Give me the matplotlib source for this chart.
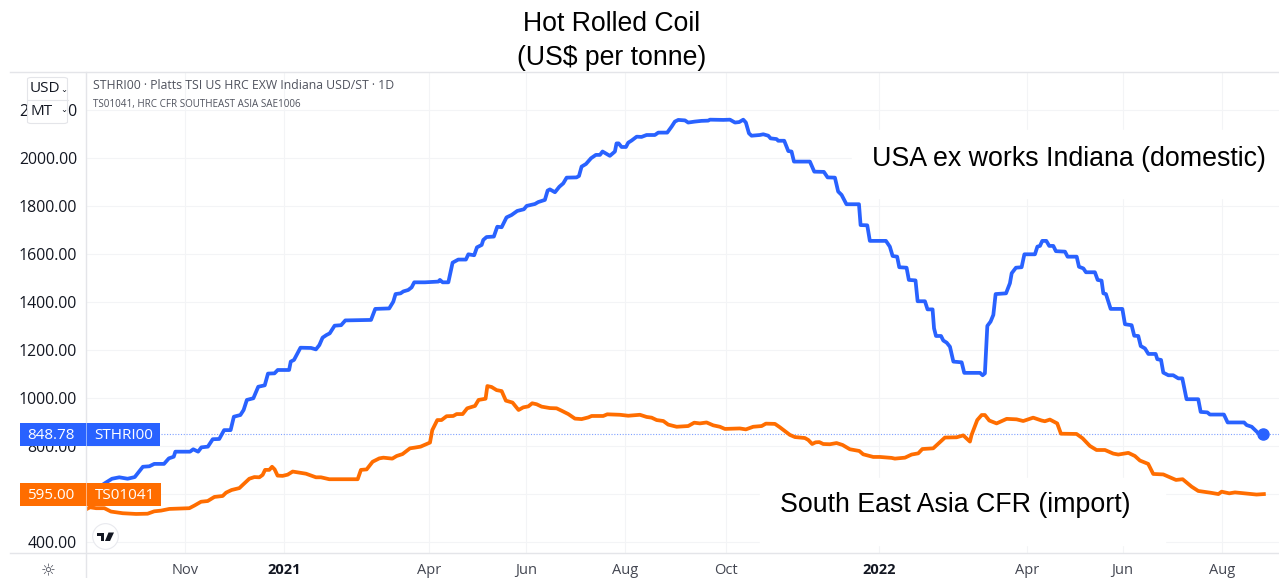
import numpy as np
import matplotlib
matplotlib.use("Agg")
import matplotlib.pyplot as plt
import matplotlib.dates as mdates
from matplotlib.patches import Rectangle, FancyBboxPatch, Polygon
from matplotlib.lines import Line2D

# days counted from 1 Sep 2020, values in US$ per tonne
usa_days = [0, 12, 16, 20.5, 25.6, 30, 35, 39, 42, 48, 51, 54, 55, 64, 66, 69, 71, 75, 78, 82, 85, 89, 91, 95, 97, 99,
            103, 106, 110, 112, 116, 118, 125, 126, 128, 132, 138.5, 141.5, 143.6, 145.6, 148, 150, 153, 157, 159.6,
            175.4, 178, 186.6, 189.1, 190.5, 193.6, 195.3, 198.3, 200.4, 202, 208.6, 216.8, 217.8, 219.5, 223, 225.6,
            229.1, 233.8, 235.3, 238.9, 240.6, 243.5, 244.5, 246.5, 251, 253.1, 255.8, 258.8, 261.9, 265.4, 269.5,
            271.2, 276.3, 278.3, 282.4, 284.1, 285.5, 288.6, 291.3, 293.7, 295.8, 301.9, 303.4, 305, 307.7, 310.8,
            313.8, 316.3, 317.9, 322.4, 325.5, 326.5, 327.8, 329.6, 332.3, 333.7, 335.8, 338.9, 341.9, 345, 350.1,
            352.2, 357.7, 360.4, 362.4, 364.5, 368.6, 370.6, 374.7, 378.8, 382.9, 384, 392.2, 396.3, 399.4, 402,
            404.5, 406.1, 408, 409.6, 414.7, 416.8, 419.9, 421.3, 425, 426, 429.7, 432.2, 434.2, 435.7, 445.5, 448.2,
            454.1, 456.4, 460.9, 462.9, 465, 468, 475.7, 476.7, 480.8, 482.4, 492.3, 494.7, 496.4, 499.2, 500.5, 505,
            506.4, 510.5, 511.8, 516.3, 517.9, 521, 521.9, 523.1, 526.2, 527.6, 529.7, 531.7, 533.8, 538.9, 540.5,
            550.2, 551.8, 553.2, 554.7, 556.7, 558.4, 559.8, 566.2, 568.6, 569.7, 572.3, 575.8, 577.5, 584, 585.5,
            587.1, 588.5, 591, 592.8, 595.3, 596.9, 602.5, 604.1, 609.7, 611.1, 613.8, 615.4, 620.9, 622.6, 625,
            626.1, 627.7, 630.6, 637.8, 639.4, 643.5, 645.1, 647.6, 649.1, 651.7, 653.8, 658.3, 659.3, 661.6, 663,
            666.1, 669.1, 672.2, 674.7, 677.3, 684.5, 686, 690.1, 691.7, 700.3, 702.6, 712.7, 714.3, 717.4, 721.5,
            724.5]
usa_price = [590, 645, 662, 668, 662, 669, 712, 714, 724, 724, 747, 754, 775, 775, 785, 775, 793, 796, 827, 828, 865,
             865, 921, 928, 949, 991, 998, 1046, 1052, 1101, 1102, 1116, 1116, 1151, 1158, 1209, 1208, 1202, 1220, 1251,
             1262, 1269, 1301, 1303, 1323, 1325, 1371, 1373, 1401, 1433, 1436, 1444, 1450, 1461, 1482, 1482, 1485, 1492,
             1482, 1482, 1564, 1577, 1577, 1599, 1595, 1628, 1638, 1659, 1671, 1673, 1714, 1712, 1753, 1763, 1780, 1787,
             1801, 1809, 1817, 1826, 1865, 1870, 1858, 1881, 1895, 1919, 1920, 1926, 1965, 1976, 2000, 2014, 2014, 2028,
             2010, 2028, 2062, 2062, 2047, 2047, 2065, 2074, 2090, 2089, 2097, 2097, 2107, 2107, 2132, 2153, 2160, 2158,
             2149, 2153, 2156, 2157, 2161, 2160, 2161, 2149, 2151, 2161, 2149, 2104, 2094, 2097, 2100, 2094, 2083, 2080,
             2073, 2073, 2030, 2028, 1986, 1986, 1944, 1943, 1920, 1919, 1861, 1847, 1808, 1808, 1721, 1720, 1655, 1655,
             1631, 1592, 1589, 1545, 1543, 1492, 1490, 1403, 1403, 1369, 1369, 1290, 1258, 1258, 1239, 1230, 1213, 1151,
             1148, 1104, 1104, 1094, 1102, 1300, 1318, 1346, 1433, 1436, 1478, 1520, 1543, 1545, 1599, 1599, 1631, 1634,
             1655, 1655, 1634, 1634, 1612, 1610, 1589, 1589, 1547, 1540, 1524, 1524, 1492, 1489, 1436, 1433, 1371, 1371,
             1307, 1303, 1259, 1258, 1216, 1206, 1183, 1183, 1161, 1158, 1105, 1094, 1094, 1081, 1081, 994, 994, 941,
             939, 930, 930, 897, 897, 886, 879, 852, 849]

asia_days = [0, 2.5, 6.2, 11.3, 15.4, 22.6, 30.8, 37.9, 42, 46.2, 51.3, 63.6, 66.7, 70.8, 74.9, 79, 84.1, 86.2, 89.6,
             94.4, 96.4, 100.5, 103.6, 106.7, 108.7, 110.2, 112.8, 114.5, 116.1, 117.9, 121, 124.1, 127.2, 135.4, 141.5,
             144.6, 149.7, 167.2, 169.2, 172.7, 176.4, 180.5, 183, 188.5, 191.2, 194.8, 199.4, 202.4, 205.9, 211.7,
             213.1, 216.2, 218.8, 221.9, 226, 228.1, 231.8, 234.6, 239.4, 241.6, 245.9, 247, 249.6, 252.7, 255.8, 258.4,
             262.5, 266.2, 269.1, 272.2, 274.6, 277.3, 280.4, 285.5, 289.6, 292.7, 296.8, 300.9, 305, 309.1, 311.2,
             318.3, 320.8, 328.6, 333.7, 340.9, 345, 348.1, 351.2, 355.3, 358.3, 363.5, 370.6, 374.3, 377.8, 381.9, 386,
             390.1, 393.2, 402.4, 406.1, 410.6, 415.8, 418.4, 424, 427, 433.2, 436.3, 442.4, 444.5, 446.9, 449, 451.3,
             453.7, 457.8, 461.9, 465.6, 470.1, 475.9, 478.3, 484.5, 488.6, 495.8, 497.8, 504, 508.1, 512.2, 514.7,
             521.4, 528.6, 535.8, 539.9, 544, 545, 548.5, 551.2, 553.2, 555.9, 560.4, 566.6, 572.7, 576.8, 582.9, 588.1,
             590.1, 593.2, 597.7, 600, 609.6, 613.3, 617.8, 621.9, 627.1, 632.2, 635.3, 641.5, 645.5, 648.6, 653.7,
             656.8, 663, 669.1, 670.8, 674.9, 680.4, 684.5, 691.7, 696.9, 698.9, 703.6, 707.1, 720.4, 724.9]
asia_price = [534, 543, 539, 539, 525, 518, 515, 516, 526, 529, 536, 539, 550, 566, 569, 586, 590, 604, 615, 623, 636,
              662, 669, 668, 678, 699, 699, 712, 701, 675, 674, 679, 692, 683, 668, 668, 660, 660, 699, 701, 733, 747,
              750, 746, 757, 765, 789, 792, 796, 813, 865, 907, 907, 923, 924, 932, 932, 956, 966, 991, 996, 1049, 1045,
              1032, 1028, 988, 980, 949, 960, 964, 977, 973, 963, 957, 956, 946, 932, 913, 911, 918, 924, 924, 931, 929,
              925, 929, 920, 917, 907, 903, 888, 879, 882, 896, 893, 897, 885, 879, 870, 872, 868, 879, 882, 892, 891,
              877, 845, 836, 832, 824, 807, 814, 815, 807, 806, 811, 803, 785, 778, 764, 753, 753, 749, 746, 750, 763,
              768, 786, 789, 834, 835, 843, 817, 845, 907, 928, 928, 905, 893, 912, 910, 903, 917, 905, 902, 909, 893,
              850, 849, 831, 799, 782, 782, 767, 763, 770, 757, 738, 724, 682, 680, 662, 657, 660, 629, 611, 604, 598,
              608, 601, 605, 596, 598]

y_ticks = [400, 600, 800, 1000, 1200, 1400, 1600, 1800, 2000, 2200]
# the time scale skips non trading days, so these sit a little off the calendar
month_ticks = ["2020-11-01", "2021-01-01", "2021-03-31", "2021-05-30", "2021-07-30", "2021-09-30",
               "2022-01-02", "2022-04-03", "2022-06-01", "2022-08-01"]
month_labels = ["Nov", "2021", "Apr", "Jun", "Aug", "Oct", "2022", "Apr", "Jun", "Aug"]
usa_last = 848.78
asia_last = 595.00

BLUE = "#2962ff"
ORANGE = "#ff6d00"
GRID = "#f3f4f6"
EDGE = "#e4e5e9"
INK = "#131722"
W, H = 1279, 578

plt.rcParams["font.family"] = ["Open Sans", "DejaVu Sans"]
fig = plt.figure(figsize=(W / 100, H / 100), dpi=100)
ax = fig.add_axes([86 / W, 1 - 553 / H, (W - 86) / W, (553 - 72) / H])

start = mdates.datestr2num("2020-09-01")
ax.plot(start + np.array(usa_days), usa_price, color=BLUE, lw=2.7, zorder=4, solid_joinstyle="round")
ax.plot(start + np.array(asia_days), asia_price, color=ORANGE, lw=2.7, zorder=4, solid_joinstyle="round")
ax.plot(start + usa_days[-1], usa_last, "o", color=BLUE, ms=8, zorder=5)
ax.axhline(usa_last, color=BLUE, lw=0.8, ls=(0, (1, 1.5)), alpha=0.6, zorder=3)

ax.set_xlim(start, start + 734.2)
ax.set_ylim(352, 2360)
ax.set_yticks(y_ticks)
ax.set_yticklabels([f"{v:.2f}" for v in y_ticks], fontsize=11.4, color=INK)
ax.set_xticks([mdates.datestr2num(d) for d in month_ticks])
ax.set_xticklabels(month_labels, fontsize=10.5, color="#434651")
for lab in ax.get_xticklabels():
    if lab.get_text().startswith("20"):
        lab.set_fontweight("bold")
        lab.set_color(INK)
ax.tick_params(axis="y", length=0, pad=6.5)
ax.tick_params(axis="x", length=0, pad=7)
ax.grid(True, color=GRID, lw=0.8, zorder=0)
ax.set_axisbelow(True)
for s in ax.spines.values():
    s.set_visible(False)


def rect(x0, y0, x1, y1, zorder=10, **kw):
    return fig.add_artist(Rectangle((x0 / W, 1 - y1 / H), (x1 - x0) / W, (y1 - y0) / H,
                                    transform=fig.transFigure, zorder=zorder, **kw))


def label(x, y, s, zorder=12, **kw):
    return fig.text(x / W, 1 - y / H, s, zorder=zorder, va="center", **kw)


# frame of the chart pane
for xs, ys in [((10, W), (72, 72)), ((10, W), (553, 553)), ((86, 86), (72, H))]:
    fig.add_artist(Line2D([x / W for x in xs], [1 - y / H for y in ys], color=EDGE, lw=1, zorder=9))

# white patches behind the added annotations
ax.add_patch(Rectangle((852 / W, 1 - 198 / H), (W - 852) / W, 68 / H, transform=fig.transFigure,
                       color="white", zorder=2))
ax.add_patch(Rectangle((760 / W, 1 - 545 / H), 405 / W, 67 / H, transform=fig.transFigure,
                       color="white", zorder=2))

arial = ["Liberation Sans", "DejaVu Sans"]
label(612, 24, "Hot Rolled Coil", fontsize=19.2, family=arial, ha="center", color="black")
label(612, 58, "(US$ per tonne)", fontsize=19.2, family=arial, ha="center", color="black")
label(872, 159, "USA ex works Indiana (domestic)", fontsize=19.25, family=arial, color="black")
label(780, 505, "South East Asia CFR (import)", fontsize=19.3, family=arial, color="black")

label(93, 85.5, "STHRI00 · Platts TSI US HRC EXW Indiana USD/ST · 1D", fontsize=8.8, color="#50535e")
label(93, 104, "TS01041, HRC CFR SOUTHEAST ASIA SAE1006", fontsize=7.1, color="#50535e")

# last value tags
rect(20, 423, 160, 446, facecolor=BLUE, edgecolor="none")
rect(20, 483, 161, 506, facecolor=ORANGE, edgecolor="none")
rect(86, 423, 87, 446, zorder=11, facecolor="#8fb0ff", edgecolor="none")
rect(86, 483, 87, 506, zorder=11, facecolor="#ffb380", edgecolor="none")
label(74.5, 435.5, f"{usa_last:.2f}", fontsize=11, color="white", ha="right")
label(94.5, 435.5, "STHRI00", fontsize=11, color="white")
label(74.5, 495.5, f"{asia_last:.2f}", fontsize=11, color="white", ha="right")
label(94.5, 495.5, "TS01041", fontsize=11, color="white")

# currency and unit buttons
fig.add_artist(FancyBboxPatch((27.5 / W, 1 - 123.5 / H), 40 / W, 46 / H, boxstyle="round,pad=0,rounding_size=0.003",
                              transform=fig.transFigure, facecolor="white", edgecolor=EDGE, lw=0.8, zorder=10,
                              mutation_aspect=H / W * 2))
fig.add_artist(Line2D([27.5 / W, 67.5 / W], [1 - 99.5 / H] * 2, color=EDGE, lw=0.8, zorder=11))
label(30, 89, "USD", fontsize=11, color=INK)
label(30, 111.5, "MT", fontsize=11, color=INK)
label(60, 89, "⌄", fontsize=6, color=INK, family=["DejaVu Sans"])
label(60, 110, "⌄", fontsize=6, color=INK, family=["DejaVu Sans"])

# logo badge and settings icon
fig.add_artist(Line2D([105 / W], [1 - 536 / H], marker="o", ms=18.5, mfc="white", mec="#e8e9ee", mew=0.8,
                      ls="none", transform=fig.transFigure, zorder=11))
for pts in [[(97, 532.5), (104, 532.5), (104, 541), (100.5, 541), (100.5, 536), (97, 536)],
            [(108.5, 532.5), (114, 532.5), (110, 541), (105, 541)]]:
    fig.add_artist(Polygon([(x / W, 1 - y / H) for x, y in pts], transform=fig.transFigure,
                           facecolor=INK, edgecolor="none", zorder=12))
label(48, 571, "☼", fontsize=12, color="#50535e", ha="center", family=["DejaVu Sans"])

fig.savefig("out.png", dpi=100)
